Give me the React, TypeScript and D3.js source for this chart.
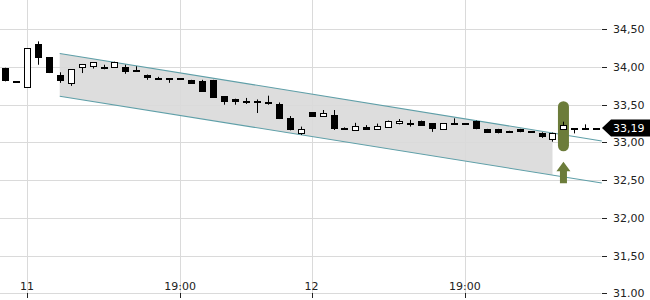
import React from "react";
import * as d3 from "d3";

const opens = [33.99,33.82,33.73,34.30,34.13,33.90,33.79,34.00,34.01,34.00,34.00,34.00,33.96,33.90,33.86,33.85,33.85,33.83,33.81,33.83,33.61,33.58,33.55,33.55,33.54,33.51,33.33,33.12,33.40,33.355,33.37,33.19,33.165,33.20,33.18,33.21,33.255,33.255,33.29,33.255,33.18,33.26,33.255,33.29,33.18,33.18,33.155,33.18,33.15,33.12,33.04,33.18,33.19,33.185,33.19];
const highs = [33.99,33.82,34.25,34.34,34.13,33.93,33.97,34.04,34.06,34.03,34.07,34.03,34.01,33.90,33.87,33.85,33.85,33.83,33.83,33.83,33.61,33.58,33.59,33.57,33.62,33.53,33.35,33.21,33.40,33.43,33.43,33.20,33.26,33.23,33.25,33.29,33.31,33.30,33.29,33.255,33.255,33.32,33.255,33.29,33.18,33.18,33.155,33.18,33.15,33.135,33.13,33.275,33.19,33.24,33.19];
const lows = [33.81,33.82,33.73,34.03,33.92,33.79,33.75,33.92,33.98,33.97,34.00,33.91,33.95,33.83,33.83,33.79,33.83,33.78,33.67,33.59,33.50,33.50,33.51,33.39,33.50,33.31,33.16,33.10,33.34,33.355,33.165,33.17,33.165,33.17,33.18,33.21,33.24,33.21,33.22,33.14,33.18,33.245,33.255,33.175,33.13,33.12,33.13,33.135,33.13,33.06,33.01,33.18,33.12,33.178,33.19];
const closes = [33.81,33.82,34.25,34.12,33.92,33.81,33.97,34.04,34.06,33.97,34.07,33.93,33.95,33.86,33.85,33.83,33.83,33.78,33.67,33.59,33.53,33.53,33.53,33.53,33.51,33.31,33.16,33.18,33.34,33.39,33.18,33.17,33.22,33.17,33.22,33.29,33.285,33.245,33.22,33.18,33.255,33.245,33.255,33.175,33.13,33.12,33.13,33.135,33.13,33.07,33.13,33.23,33.165,33.178,33.19];

const yTicks = [34.5, 34.0, 33.5, 33.0, 32.5, 32.0, 31.5, 31.0];
const yTickLabels = ["34,50", "34,00", "33,50", "33,00", "32,50", "32,00", "31,50", "31.00"];
const xTickIndex = [2, 16, 28, 42];
const xTickLabels = ["11", "19:00", "12", "19:00"];

const channelIdx = [5, 54.5];
const channelUpper = [34.18, 33.02];
const channelLower = [33.613, 32.463];
const shadeEndIdx = 50;

const lastPrice = 33.19;
const lastPriceLabel = "33,19";
const signalIdx = 51;
const signalPill = [33.546, 32.883];
const signalArrow = [32.745, 32.46];

export default function App() {
  const W = 650, H = 300;
  const x = d3.scaleLinear().domain([0, 54]).range([5, 596.3]);
  const y = d3.scaleLinear().domain([31, 34.5]).range([293.3, 29.3]);
  const plotRight = 601.5;
  const bottom = 293;
  const chX = d3.scaleLinear().domain(channelIdx);
  const upAt = (i: number) => d3.scaleLinear().domain(channelIdx).range(channelUpper)(i);
  const loAt = (i: number) => d3.scaleLinear().domain(channelIdx).range(channelLower)(i);
  void chX;
  const shadePts: [number, number][] = [
    [x(channelIdx[0]), y(upAt(channelIdx[0]))],
    [x(shadeEndIdx), y(upAt(shadeEndIdx))],
    [x(shadeEndIdx), y(loAt(shadeEndIdx))],
    [x(channelIdx[0]), y(loAt(channelIdx[0]))],
  ];
  const line = d3.line();
  const font = "DejaVu Sans, sans-serif";
  const sx = x(signalIdx);
  const py = y(lastPrice);
  const aTop = y(signalArrow[0]);
  const aBot = y(signalArrow[1]);
  const arrowPath = `M${sx},${aTop} L${sx + 7},${aTop + 9.5} L${sx + 3.5},${aTop + 9.5} L${sx + 3.5},${aBot} L${sx - 3.5},${aBot} L${sx - 3.5},${aTop + 9.5} L${sx - 7},${aTop + 9.5} Z`;
  return (
    <svg width={W} height={H} style={{ position: "absolute", left: 0, top: 0, background: "#fff" }} fontFamily={font}>
      <path d={line(shadePts)! + "Z"} fill="#9a9a9a" fillOpacity={0.34} />
      {yTicks.map((t, i) => (
        <g key={"y" + i}>
          <line x1={0} x2={plotRight} y1={Math.round(y(t)) + 0.5} y2={Math.round(y(t)) + 0.5} stroke="#dadada" />
          <line x1={602} x2={607} y1={Math.round(y(t)) + 0.5} y2={Math.round(y(t)) + 0.5} stroke="#222" />
          <text x={613} y={y(t)} dy="0.36em" fontSize={11} fill="#222">{yTickLabels[i]}</text>
        </g>
      ))}
      {xTickIndex.map((t, i) => (
        <g key={"x" + i}>
          <line x1={Math.round(x(t)) + 0.5} x2={Math.round(x(t)) + 0.5} y1={0} y2={bottom} stroke="#dadada" />
          <line x1={Math.round(x(t)) + 0.5} x2={Math.round(x(t)) + 0.5} y1={bottom} y2={298} stroke="#222" />
          <text x={x(t)} y={290} textAnchor="middle" fontSize={11} fill="#222">{xTickLabels[i]}</text>
        </g>
      ))}
      <line x1={x(channelIdx[0])} y1={y(channelUpper[0])} x2={x(channelIdx[1])} y2={y(channelUpper[1])} stroke="#5f9fa8" strokeWidth={1.1} />
      <line x1={x(channelIdx[0])} y1={y(channelLower[0])} x2={x(channelIdx[1])} y2={y(channelLower[1])} stroke="#5f9fa8" strokeWidth={1.1} />
      <rect x={sx - 5.5} y={y(signalPill[0])} width={11} height={y(signalPill[1]) - y(signalPill[0])} rx={5.5} fill="#6c7c3a" />
      <path d={arrowPath} fill="#6c7c3a" />
      {opens.map((o, i) => {
        const c = closes[i];
        const cx = Math.round(x(i)) + 0.5;
        const top = Math.round(y(Math.max(o, c)));
        const bot = Math.round(y(Math.min(o, c)));
        const up = c > o;
        const h = Math.max(bot - top, 1);
        return (
          <g key={"c" + i}>
            <line x1={cx} x2={cx} y1={y(highs[i])} y2={y(lows[i])} stroke="#000" />
            {up ? (
              <rect x={cx - 3} y={top + 0.5} width={6} height={h} fill="#fff" stroke="#000" />
            ) : (
              <rect x={cx - 3.5} y={top} width={7} height={h + (h <= 1 ? 1 : 0)} fill="#000" />
            )}
          </g>
        );
      })}
      <path d={`M602,${py} L611,${py - 8.5} L650,${py - 8.5} L650,${py + 8.5} L611,${py + 8.5} Z`} fill="#000" />
      <text x={613} y={py} dy="0.36em" fontSize={11} fill="#fff">{lastPriceLabel}</text>
    </svg>
  );
}
